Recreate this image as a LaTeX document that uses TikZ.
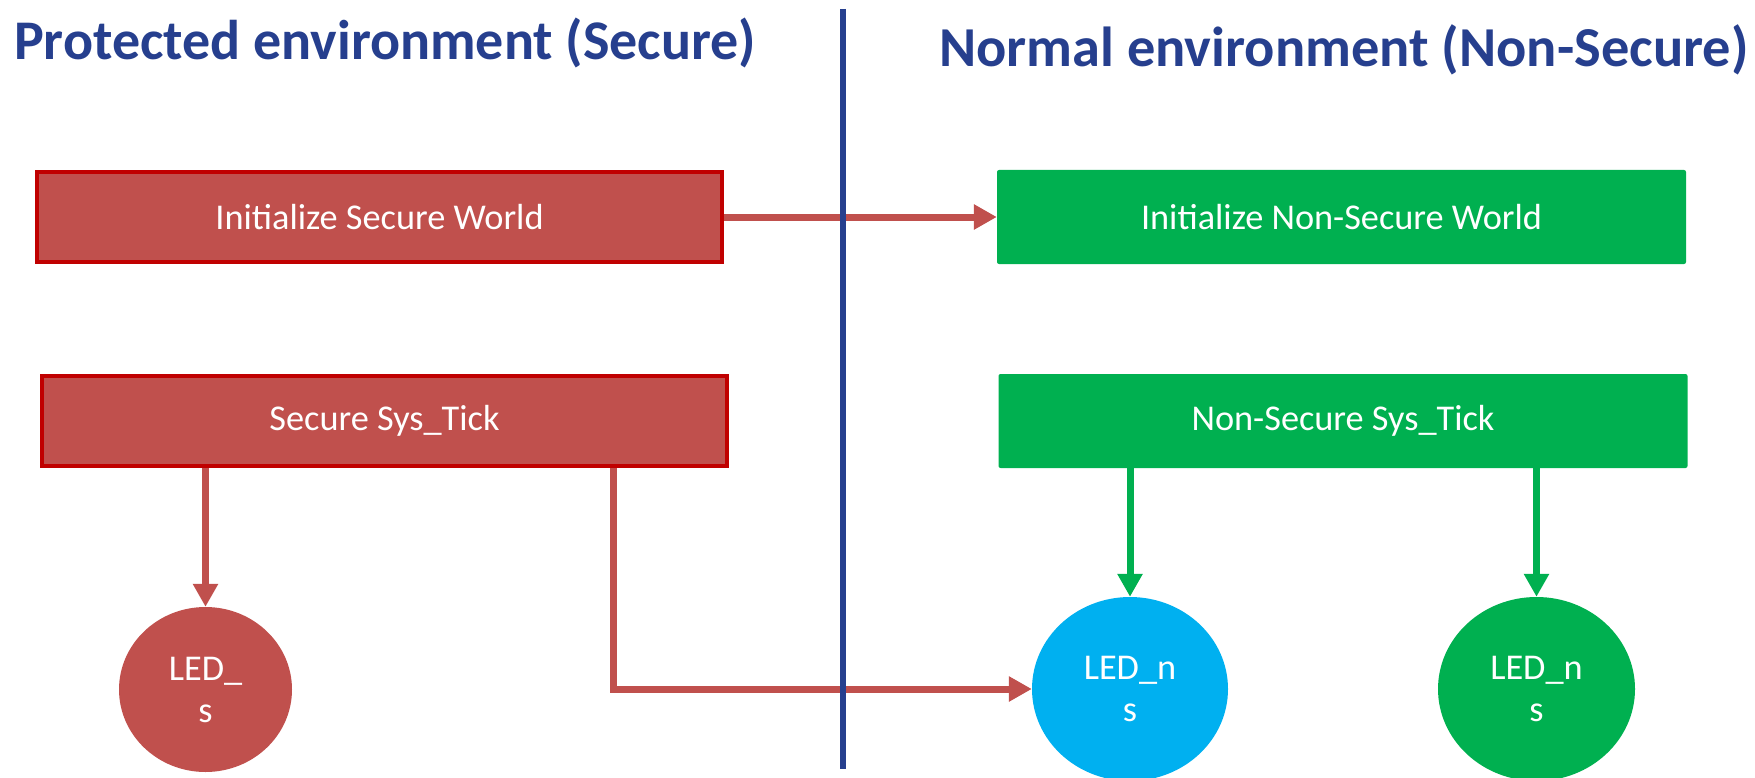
\documentclass[tikz,border=0pt]{standalone}
\usepackage{fontspec}
\setmainfont{Carlito}
\usetikzlibrary{arrows.meta,shapes.geometric}
\definecolor{titleblue}{HTML}{263F8E}
\definecolor{secfill}{HTML}{C0504D}
\definecolor{secedge}{HTML}{C00000}
\definecolor{nsgreen}{HTML}{00B050}
\definecolor{nsblue}{HTML}{00B0F0}
\begin{document}
\begin{tikzpicture}[x=1pt,y=-1pt,
  heading/.style={text=titleblue, inner sep=0pt, anchor=base west},
  box/.style={rectangle, inner sep=0pt, text=white, font=\fontsize{36.3}{42}\selectfont},
  secbox/.style={box, fill=secfill, draw=secedge, line width=4pt, minimum width=685pt, minimum height=90pt},
  nsbox/.style={box, fill=nsgreen, rounded corners=2pt, minimum width=689pt, minimum height=94pt},
  led/.style={ellipse, inner sep=0pt, text=white, align=center, font=\fontsize{36.3}{42}\selectfont},
  redarrow/.style={draw=secfill, line width=7pt, -{Triangle[length=23pt,width=24pt]}, secfill},
  greenarrow/.style={draw=nsgreen, line width=7pt, -{Triangle[length=23pt,width=24pt]}, nsgreen}]
\useasboundingbox (0,0) rectangle (1755,778);

% headings
\node[heading, font=\fontsize{56}{66}\selectfont\bfseries] (hsec) at (14,60) {Protected environment (Secure)};
\node[heading, font=\fontsize{56.4}{66}\selectfont\bfseries] (hns) at (939,66.7) {Normal environment (Non-Secure)};

% process boxes
\node[secbox] (initsec) at (379.5,217) {Initialize Secure World};
\node[secbox] (ticksec) at (384.5,421) {Secure Sys\_Tick};
\node[nsbox] (initns) at (1341.5,217) {Initialize Non-Secure World};
\node[nsbox] (tickns) at (1343,421) {Non-Secure Sys\_Tick};

% LEDs
\node[led, fill=secfill, minimum width=173pt, minimum height=165pt] (leds) at (205.5,689.5) {LED\_\\s};
\node[led, fill=nsblue, minimum width=196pt, minimum height=184pt] (ledns) at (1130,689) {LED\_n\\s};
\node[led, fill=nsgreen, minimum width=197pt, minimum height=184pt] (ledns2) at (1536.5,689) {LED\_n\\s};

% connectors
\draw[redarrow] (initsec.east) -- (initns.west);
\draw[redarrow] (leds.north |- ticksec.south) -- (leds.north);
\draw[redarrow] (613.3,0 |- ticksec.south) -- (613.3,0 |- ledns.west) -- (ledns.west);
\draw[greenarrow] (ledns.north |- tickns.south) -- (ledns.north);
\draw[greenarrow] (ledns2.north |- tickns.south) -- (ledns2.north);

% divider between the two worlds
\draw[titleblue, line width=6.5pt] (843,9) -- (843,769);
\end{tikzpicture}
\end{document}
